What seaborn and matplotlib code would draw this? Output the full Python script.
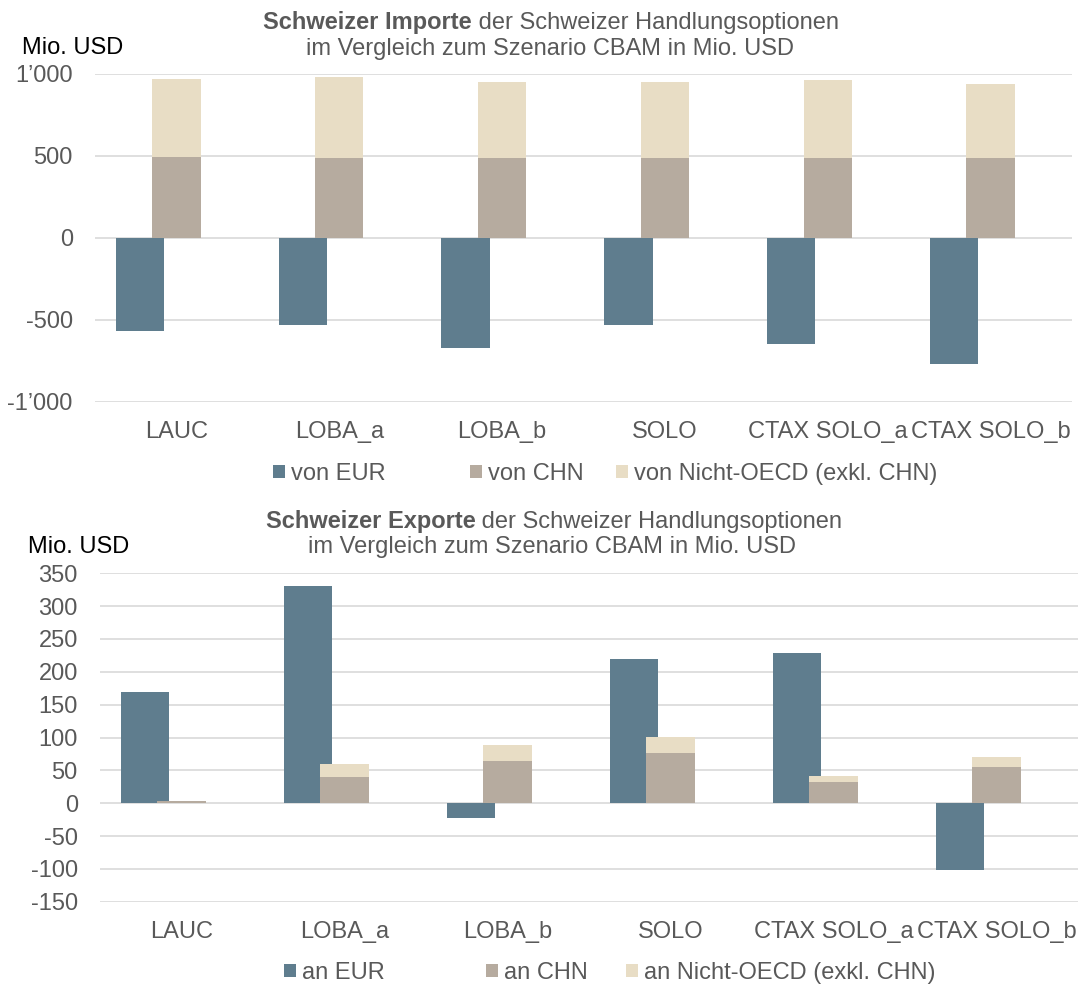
import numpy as np
import pandas as pd
import matplotlib
matplotlib.use('Agg')
import matplotlib.pyplot as plt
from matplotlib.patches import Patch
from matplotlib.ticker import FuncFormatter
import seaborn as sns

# Szenarien (x-Achse)
szenarien = ['LAUC', 'LOBA_a', 'LOBA_b', 'SOLO', 'CTAX SOLO_a', 'CTAX SOLO_b']

# Importe, Mio. USD
imp_eur = [-566, -529, -672, -529, -645, -767]
imp_chn = [495, 485, 485, 485, 489, 487]
imp_nicht_oecd = [473, 497, 466, 466, 474, 449]

# Exporte, Mio. USD
exp_eur = [169, 330, -22, 220, 228, -102]
exp_chn = [3, 40, 64, 76, 32, 55]
exp_nicht_oecd = [1, 20, 24, 25, 10, 16]

imp_labels = ['von EUR', 'von CHN', 'von Nicht-OECD (exkl. CHN)']
exp_labels = ['an EUR', 'an CHN', 'an Nicht-OECD (exkl. CHN)']

imp_df = pd.DataFrame({'EUR': imp_eur, 'CHN': imp_chn, 'NOECD': imp_nicht_oecd}, index=szenarien)
exp_df = pd.DataFrame({'EUR': exp_eur, 'CHN': exp_chn, 'NOECD': exp_nicht_oecd}, index=szenarien)

C_EUR = '#5F7D8E'
C_CHN = '#B6AB9F'
C_NOECD = '#E8DDC5'
GREY = '#595959'
FS = 17

sns.set_theme(style='white')
plt.rcParams['font.family'] = ['Liberation Sans', 'DejaVu Sans']

W, H = 1081, 988
fig = plt.figure(figsize=(W / 100, H / 100), dpi=100)


def px_axes(x0, x1, y0, y1):
    # Achse aus Pixelkoordinaten (y von oben)
    return fig.add_axes([x0 / W, 1 - y1 / H, (x1 - x0) / W, (y1 - y0) / H])


def thousands(v, pos):
    s = f'{abs(int(v)):,}'.replace(',', '\u2019')
    return ('-' if v < 0 else '') + s


def draw_bars(ax, df, ylim, step):
    x = np.arange(len(df))
    bw = 0.297
    ax.bar(x - 0.224, df['EUR'], width=bw, color=C_EUR, edgecolor='none', linewidth=0, zorder=2)
    ax.bar(x, df['CHN'], width=bw, color=C_CHN, edgecolor='none', linewidth=0, zorder=3)
    ax.bar(x, df['NOECD'], width=bw, bottom=df['CHN'], color=C_NOECD, edgecolor='none', linewidth=0, zorder=3)
    ax.set_xlim(-0.5, len(df) - 0.5)
    ax.set_ylim(*ylim)
    ax.set_yticks(np.arange(ylim[0], ylim[1] + 1, step))
    ax.yaxis.set_major_formatter(FuncFormatter(thousands))
    ax.set_xticks(x)
    ax.set_xticklabels(df.index)
    ax.grid(axis='y', color='#D9D9D9', linewidth=1.2, zorder=0)
    ax.grid(axis='x', visible=False)
    ax.set_axisbelow(True)
    sns.despine(ax=ax, left=True, bottom=True)
    ax.tick_params(axis='y', length=0, pad=16, labelsize=FS, labelcolor=GREY)
    ax.tick_params(axis='x', length=0, pad=14, labelsize=FS, labelcolor=GREY)
    ax.set_facecolor('white')


def title(bold, rest, xc, y_base):
    r = fig.canvas.get_renderer()
    t1 = fig.text(0, 1 - y_base / H, bold, fontsize=FS, fontweight='bold', color=GREY, va='baseline')
    t2 = fig.text(0, 1 - y_base / H, ' ' + rest, fontsize=FS, color=GREY, va='baseline')
    w1 = t1.get_window_extent(r).width
    w2 = t2.get_window_extent(r).width
    x0 = xc - (w1 + w2) / 2
    t1.set_x(x0 / W)
    t2.set_x((x0 + w1) / W)


def legend_items(labels, xs, yc):
    for lab, col, xl in zip(labels, [C_EUR, C_CHN, C_NOECD], xs):
        fig.legend(handles=[Patch(facecolor=col, edgecolor='none')], labels=[lab],
                   loc='center left', bbox_to_anchor=(xl / W, 1 - yc / H),
                   frameon=False, fontsize=FS, labelcolor=GREY,
                   handlelength=0.5, handleheight=0.5, handletextpad=0.25,
                   borderpad=0, borderaxespad=0)


# Importe
ax1 = px_axes(95, 1072, 73.7, 402)
draw_bars(ax1, imp_df, (-1000, 1000), 500)
title('Schweizer Importe', 'der Schweizer Handlungsoptionen', 551, 28.5)
fig.text(550 / W, 1 - 54.5 / H, 'im Vergleich zum Szenario CBAM in Mio. USD',
         fontsize=FS, color=GREY, ha='center', va='baseline')
fig.text(22 / W, 1 - 54.5 / H, 'Mio. USD', fontsize=FS, color='black', va='baseline')
legend_items(imp_labels, [273, 470, 616], 474)

# Exporte
ax2 = px_axes(100, 1078, 573.3, 901.7)
draw_bars(ax2, exp_df, (-150, 350), 50)
title('Schweizer Exporte', 'der Schweizer Handlungsoptionen', 554, 528)
fig.text(552 / W, 1 - 553 / H, 'im Vergleich zum Szenario CBAM in Mio. USD',
         fontsize=FS, color=GREY, ha='center', va='baseline')
fig.text(28 / W, 1 - 553 / H, 'Mio. USD', fontsize=FS, color='black', va='baseline')
legend_items(exp_labels, [284, 486, 626], 973)

fig.savefig('out.png', dpi=100, facecolor='white')
